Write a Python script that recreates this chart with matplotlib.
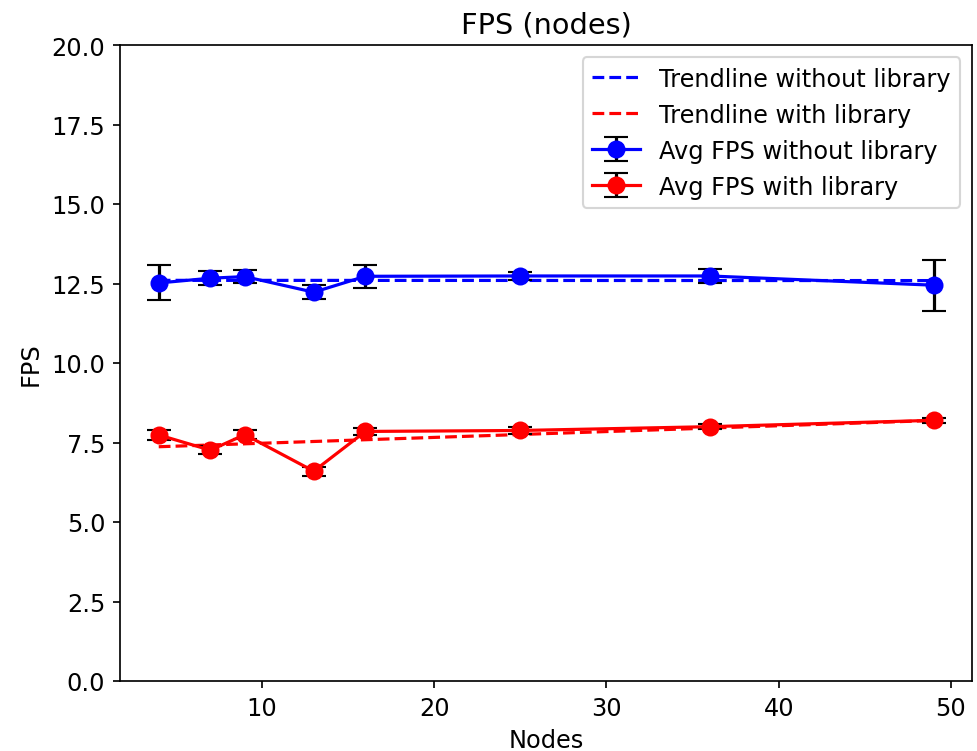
import numpy as np
import matplotlib.pyplot as plt

nodes = [4, 7, 9, 13, 16, 25, 36, 49]
fps_without = [12.52, 12.67, 12.72, 12.23, 12.73, 12.74, 12.74, 12.45]
err_without = [0.55, 0.22, 0.2, 0.22, 0.37, 0.12, 0.23, 0.8]
fps_with = [7.74, 7.26, 7.75, 6.6, 7.85, 7.88, 8.0, 8.2]
err_with = [0.15, 0.13, 0.14, 0.14, 0.12, 0.1, 0.08, 0.08]

# linear trendlines through the averages
fit_without = np.polyfit(nodes, fps_without, 1)
fit_with = np.polyfit(nodes, fps_with, 1)
x = np.array(nodes)

plt.rcParams.update({'font.size': 11.3})
fig = plt.figure(figsize=(6.4, 4.925), dpi=152.66)
ax = fig.add_axes([0.1228, 0.0931, 0.8725, 0.8457])

ax.plot(x, np.polyval(fit_without, x), 'b--', label='Trendline without library')
ax.plot(x, np.polyval(fit_with, x), 'r--', label='Trendline with library')
ax.errorbar(nodes, fps_without, yerr=err_without, fmt='b-o', ecolor='k',
            capsize=5.5, ms=7.5, label='Avg FPS without library')
ax.errorbar(nodes, fps_with, yerr=err_with, fmt='r-o', ecolor='k',
            capsize=5.5, ms=7.5, label='Avg FPS with library')

ax.set_ylim(0, 20)
ax.set_title('FPS (nodes)')
ax.set_xlabel('Nodes')
ax.set_ylabel('FPS')
ax.legend(loc='upper right')

fig.savefig('out.png')
